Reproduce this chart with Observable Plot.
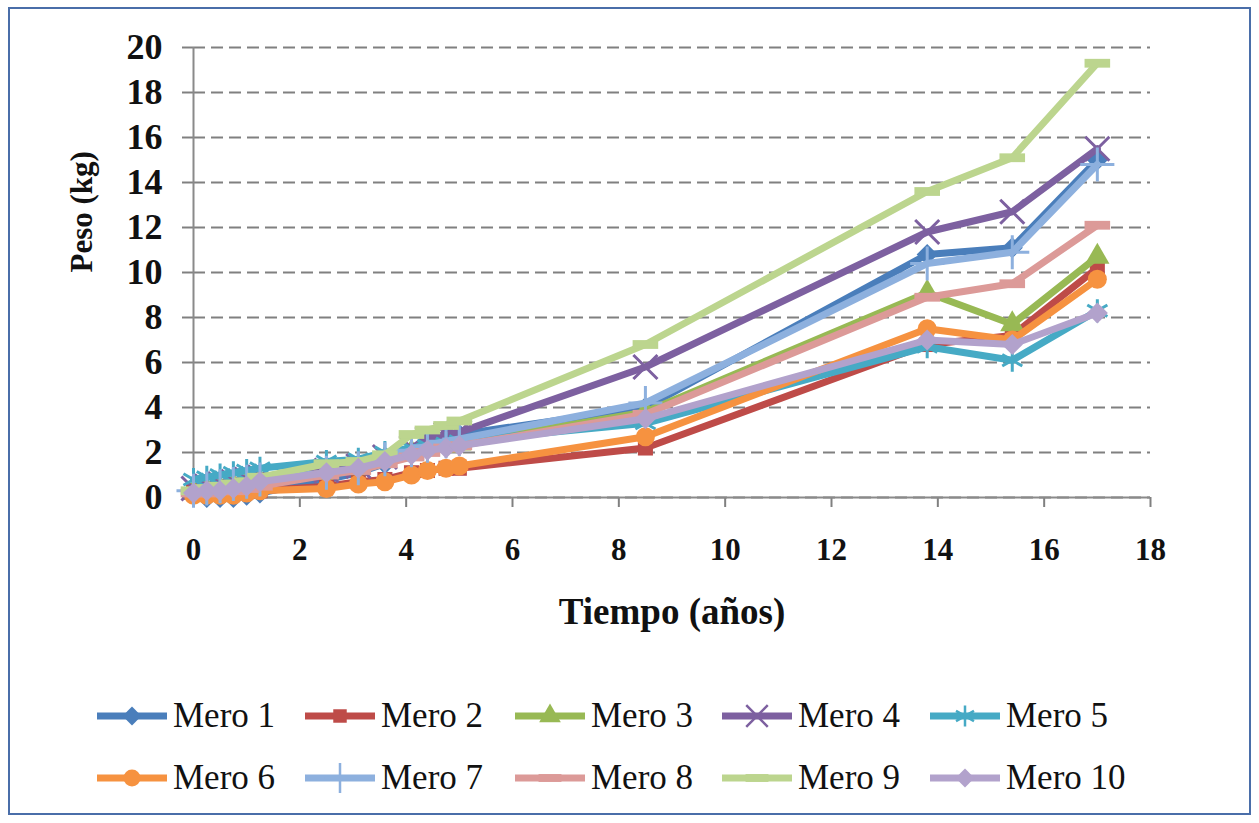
<!DOCTYPE html>
<html><head><meta charset="utf-8">
<script src="https://cdn.jsdelivr.net/npm/d3@7"></script>
<script src="https://cdn.jsdelivr.net/npm/@observablehq/plot@0.6"></script>
<style>
body{margin:0;background:#fff;}
#wrap{position:relative;width:1259px;height:823px;overflow:hidden;background:#fff;}
#frame{position:absolute;left:8px;top:7px;width:1243px;height:808px;border:2px solid #4a6ea9;box-sizing:border-box;}
#chart{position:absolute;left:0;top:0;}
.leg{position:absolute;display:flex;align-items:center;font-family:"Liberation Serif",serif;font-size:35px;color:#111;height:40px;}
.leg svg{margin-right:6px;}
</style></head><body>
<div id="wrap"><div id="frame"></div><div id="chart"></div><div id="legend"></div></div>
<script>
// ---- data ----
const times  = [0, 0.25, 0.5, 0.75, 1, 1.25, 2.5, 3.1, 3.6, 4.1, 4.4, 4.75, 5.0, 8.5, 13.8, 15.4, 17];
const seriesNames = ["Mero 1","Mero 2","Mero 3","Mero 4","Mero 5","Mero 6","Mero 7","Mero 8","Mero 9","Mero 10"];
const mero1  = [0.2, 0.0, 0.0, 0.0, 0.1, 0.2, 0.8, 1.1, 1.5, 2.0, 2.5, 2.7, 2.8, 4.0, 10.8, 11.1, 15.0];
const mero2  = [0.3, 0.2, 0.2, 0.2, 0.3, 0.3, 0.5, 0.7, 0.8, 1.1, 1.2, 1.3, 1.3, 2.2, 6.8, 7.2, 10.2];
const mero3  = [0.2, 0.3, 0.4, 0.5, 0.6, 0.7, 1.1, 1.3, 1.7, 2.0, 2.2, 2.3, 2.4, 3.8, 9.1, 7.7, 10.7];
const mero4  = [0.4, 0.5, 0.6, 0.7, 0.8, 0.9, 1.2, 1.4, 1.8, 2.2, 2.6, 2.8, 2.9, 5.8, 11.8, 12.7, 15.5];
const mero5  = [0.8, 0.9, 1.0, 1.1, 1.2, 1.3, 1.6, 1.7, 2.0, 2.2, 2.3, 2.4, 2.5, 3.3, 6.7, 6.1, 8.3];
const mero6  = [0.1, 0.1, 0.1, 0.1, 0.2, 0.3, 0.4, 0.6, 0.7, 1.0, 1.2, 1.3, 1.4, 2.7, 7.5, 7.0, 9.7];
const mero7  = [0.3, 0.4, 0.5, 0.6, 0.7, 0.8, 1.1, 1.3, 1.7, 2.1, 2.3, 2.5, 2.6, 4.2, 10.4, 10.9, 14.8];
const mero8  = [0.2, 0.2, 0.3, 0.3, 0.4, 0.5, 1.0, 1.2, 1.5, 1.8, 2.0, 2.2, 2.3, 3.7, 8.9, 9.5, 12.1];
const mero9  = [0.3, 0.4, 0.5, 0.6, 0.7, 0.9, 1.5, 1.6, 1.9, 2.8, 3.0, 3.2, 3.4, 6.8, 13.6, 15.1, 19.3];
const mero10 = [0.2, 0.3, 0.3, 0.4, 0.5, 0.7, 1.1, 1.3, 1.6, 1.9, 2.1, 2.2, 2.3, 3.5, 7.0, 6.8, 8.2];
const xTicks = [0, 2, 4, 6, 8, 10, 12, 14, 16, 18];
const yTicks = [0, 2, 4, 6, 8, 10, 12, 14, 16, 18, 20];

const values = [mero1, mero2, mero3, mero4, mero5, mero6, mero7, mero8, mero9, mero10];
const colors = ["#4a7ebb","#be4b48","#98b954","#7d60a0","#46aac5","#f69240","#8db0de","#dc9a98","#bcd58e","#b2a2cc"];

const dash = {draw(ctx, size){ const r = Math.sqrt(size/Math.PI); ctx.moveTo(-1.6*r,-0.55*r); ctx.lineTo(1.6*r,-0.55*r); ctx.lineTo(1.6*r,0.55*r); ctx.lineTo(-1.6*r,0.55*r); ctx.closePath(); }};
const symbols = [d3.symbolDiamond2, d3.symbolSquare, d3.symbolTriangle, d3.symbolTimes || d3.symbolX, d3.symbolAsterisk, d3.symbolCircle, d3.symbolPlus, dash, dash, d3.symbolDiamond2];
const filled  = [true, true, true, false, false, true, false, true, true, true];
const radii   = [9.5, 8.5, 9, 11, 11, 9.5, 11, 8, 8, 9.5];

const rows = [];
values.forEach((vals, i) => vals.forEach((v, j) => rows.push({series: seriesNames[i], t: times[j], w: v})));

const marks = [
  Plot.gridY(yTicks, {stroke: "#808080", strokeOpacity: 1, strokeWidth: 2, strokeDasharray: "12,6"}),
  Plot.axisY({ticks: yTicks, tickSize: 11, tickPadding: 20, fontSize: 36, label: null, stroke: "#808080", strokeWidth: 2}),
  Plot.axisX({ticks: xTicks, tickSize: 10, tickPadding: 30, fontSize: 31, label: null, stroke: "#808080", strokeWidth: 2}),
  Plot.ruleX([0], {stroke: "#8a8a8a", strokeWidth: 2}),
  Plot.ruleY([0], {stroke: "#8a8a8a", strokeWidth: 2}),
];
seriesNames.forEach((name, i) => {
  const data = rows.filter(d => d.series === name);
  marks.push(Plot.line(data, {x: "t", y: "w", stroke: colors[i], strokeWidth: 7, strokeLinejoin: "round"}));
  const dotOpts = {x: "t", y: "w", symbol: symbols[i], r: radii[i]};
  if (filled[i]) { dotOpts.fill = colors[i]; dotOpts.stroke = "none"; }
  else { dotOpts.stroke = colors[i]; dotOpts.strokeWidth = 3; dotOpts.fill = "none"; }
  marks.push(Plot.dot(data, dotOpts));
});
marks.push(Plot.text(["Peso (kg)"], {text: d => d, frameAnchor: "left", dx: -111, rotate: -90, fontSize: 31}));
marks.push(Plot.text(["Tiempo (años)"], {text: d => d, frameAnchor: "bottom", dy: 126, fontSize: 37}));

const chart = Plot.plot({
  width: 1259, height: 680,
  marginLeft: 193, marginRight: 109, marginTop: 47, marginBottom: 183,
  x: {domain: [0, 18]},
  y: {domain: [0, 20]},
  style: {fontFamily: "'Liberation Serif', serif", fontWeight: "bold", color: "#111", background: "transparent", overflow: "visible"},
  marks
});
document.getElementById("chart").appendChild(chart);

// ---- legend ----
const legend = document.getElementById("legend");
const colX = [97, 305, 515, 722, 930];
const rowY = [716, 778];
seriesNames.forEach((name, i) => {
  const item = document.createElement("div");
  item.className = "leg";
  item.style.left = colX[i % 5] + "px";
  item.style.top = (rowY[Math.floor(i / 5)] - 20) + "px";
  const ns = "http://www.w3.org/2000/svg";
  const svg = document.createElementNS(ns, "svg");
  svg.setAttribute("width", 70); svg.setAttribute("height", 30);
  const ln = document.createElementNS(ns, "line");
  ln.setAttribute("x1", 1); ln.setAttribute("x2", 69); ln.setAttribute("y1", 15); ln.setAttribute("y2", 15);
  ln.setAttribute("stroke", colors[i]); ln.setAttribute("stroke-width", 7); ln.setAttribute("stroke-linecap", "round");
  svg.appendChild(ln);
  const p = document.createElementNS(ns, "path");
  p.setAttribute("d", d3.symbol(symbols[i], radii[i] * radii[i] * Math.PI * 0.8)());
  p.setAttribute("transform", "translate(35,15)");
  if (filled[i]) p.setAttribute("fill", colors[i]);
  else { p.setAttribute("fill", "none"); p.setAttribute("stroke", colors[i]); p.setAttribute("stroke-width", 2.5); }
  svg.appendChild(p);
  item.appendChild(svg);
  const span = document.createElement("span");
  span.textContent = name;
  item.appendChild(span);
  legend.appendChild(item);
});
</script>
</body></html>
